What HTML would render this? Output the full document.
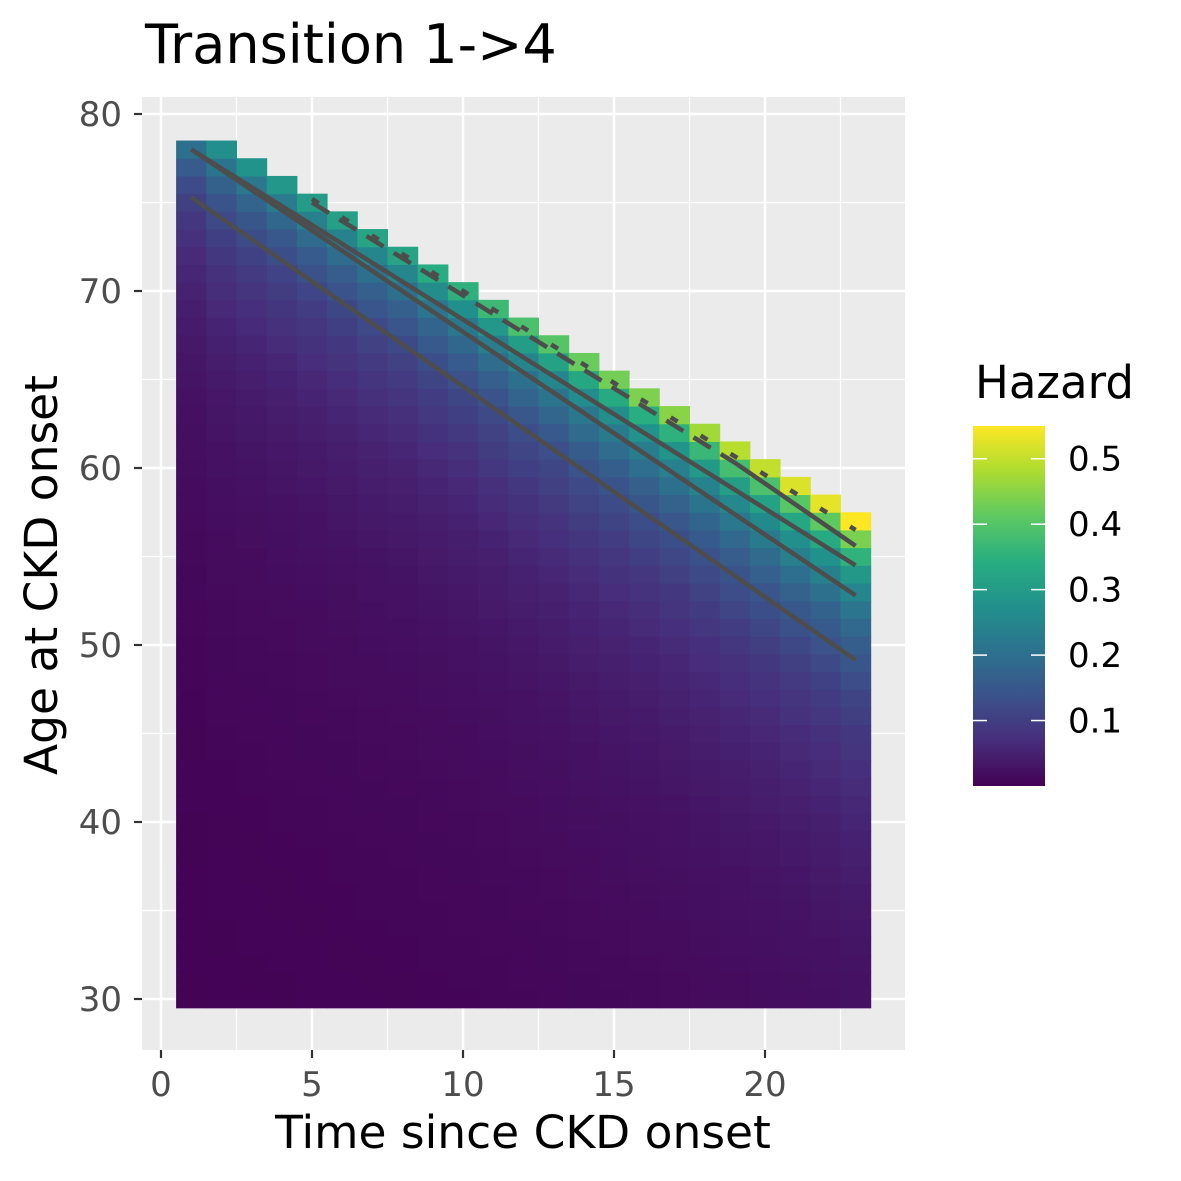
<!DOCTYPE html>
<html><head><meta charset="utf-8"><style>
body{margin:0;background:#fff}
svg{display:block;font-family:"DejaVu Sans","Liberation Sans",sans-serif}
</style></head><body>
<svg id="c" width="1181" height="1181" viewBox="0 0 1181 1181">
<defs>
<linearGradient id="vir" x1="0" y1="1" x2="0" y2="0">
<stop offset="0" stop-color="#440154"/><stop offset="0.125" stop-color="#472d7b"/><stop offset="0.25" stop-color="#3b528b"/><stop offset="0.375" stop-color="#2c728e"/><stop offset="0.5" stop-color="#21918c"/><stop offset="0.625" stop-color="#28ae80"/><stop offset="0.75" stop-color="#5ec962"/><stop offset="0.875" stop-color="#addc30"/><stop offset="1" stop-color="#fde725"/>
</linearGradient>
</defs>
<text x="145" y="63" font-size="54" fill="#000">Transition 1-&gt;4</text>
<rect x="142" y="97" width="763" height="953" fill="#ebebeb"/>
<g id="grid"></g>
<g id="tiles"></g>
<g id="lines"></g>
<g id="axes"></g>
<text x="523" y="1148" font-size="45.5" text-anchor="middle" fill="#000">Time since CKD onset</text>
<text transform="translate(57,575) rotate(-90)" font-size="45.5" text-anchor="middle" fill="#000">Age at CKD onset</text>
<g>
<text x="975" y="398" font-size="45" fill="#000">Hazard</text>
<rect x="973" y="426" width="72" height="360" fill="url(#vir)"/>
<g id="leg"></g>
</g>
</svg>
<script>
const times=[1,2,3,4,5,6,7,8,9,10,11,12,13,14,15,16,17,18,19,20,21,22,23];
const topAge=[78,78,77,76,75,74,73,72,71,70,69,68,67,66,65,64,63,62,61,60,59,58,57];
const topHaz=[0.2,0.27,0.28,0.29,0.3,0.31,0.32,0.32,0.34,0.35,0.37,0.39,0.4,0.42,0.43,0.44,0.45,0.47,0.49,0.5,0.52,0.53,0.56];
const decay=[1,0.78,0.63,0.52,0.45,0.38,0.33,0.29,0.26,0.23,0.2,0.18,0.16,0.145,0.13,0.12,0.11,0.1,0.09,0.083,0.076,0.07,0.064,0.059,0.055,0.051,0.048,0.045,0.042,0.039,0.036,0.034,0.032,0.03,0.028,0.026,0.025,0.023,0.022,0.021,0.02,0.019,0.018,0.017,0.016,0.015,0.014,0.013,0.012];
const minAge=30;
const xTicks=[0,5,10,15,20];
const yTicks=[30,40,50,60,70,80];
const legTicks=[0.1,0.2,0.3,0.4,0.5];
const solidLines=[[1,78.0,23,54.5],[1,78.0,23,52.8],[1,75.3,23,49.15],[19,60.3,23,55.6]];
const longDashLine=[5,75.0,19,60.3];
const dotLine=[5,75.2,23,56.5];
const NS='http://www.w3.org/2000/svg';
const X=v=>161+v*30.2, Y=v=>999-(v-30)*17.7;
const hMax=0.55;
const LY=v=>786-v/hMax*360;
const vstops=['#440154','#472d7b','#3b528b','#2c728e','#21918c','#28ae80','#5ec962','#addc30','#fde725'];
function hex(h){return [1,3,5].map(i=>parseInt(h.substr(i,2),16));}
function col(v){let f=Math.max(0,Math.min(1,v/hMax))*8;let i=Math.min(7,Math.floor(f));let t=f-i;let a=hex(vstops[i]),b=hex(vstops[i+1]);return 'rgb('+a.map((c,k)=>Math.round(c+(b[k]-c)*t)).join(',')+')';}
function mk(tag,at,par){const e=document.createElementNS(NS,tag);for(const k in at)e.setAttribute(k,at[k]);par.appendChild(e);return e;}
const grid=document.getElementById('grid');
for(let v=2.5;v<25;v+=5){const e=mk('line',{x1:X(v),x2:X(v),y1:97,y2:1050,stroke:'#fff','stroke-width':1.2},grid);

}
for(let v=35;v<85;v+=10){const e=mk('line',{x1:142,x2:905,y1:Y(v),y2:Y(v),stroke:'#fff','stroke-width':1.2},grid);

}
xTicks.forEach(v=>{const e=mk('line',{x1:X(v),x2:X(v),y1:97,y2:1050,stroke:'#fff','stroke-width':2.5},grid);

});
yTicks.forEach(v=>{const e=mk('line',{x1:142,x2:905,y1:Y(v),y2:Y(v),stroke:'#fff','stroke-width':2.5},grid);

});
const tiles=document.getElementById('tiles');
times.forEach((t,i)=>{for(let a=minAge;a<=topAge[i];a++){const k=topAge[i]-a;const h=topHaz[i]*(decay[k]!==undefined?decay[k]:decay[decay.length-1]);
const r=mk('rect',{x:X(t-0.5),y:Y(a+0.5),width:30.2+0.5,height:17.7+0.5,fill:col(h)},tiles);

}});
const lines=document.getElementById('lines');
solidLines.forEach(l=>{const e=mk('line',{x1:X(l[0]),y1:Y(l[1]),x2:X(l[2]),y2:Y(l[3]),stroke:'#4d4d4d','stroke-width':4.5},lines);

});
{const l=longDashLine;const e=mk('line',{x1:X(l[0]),y1:Y(l[1]),x2:X(l[2]),y2:Y(l[3]),stroke:'#4d4d4d','stroke-width':4.5,'stroke-dasharray':'20 12'},lines);

}
{const l=dotLine;const e=mk('line',{x1:X(l[0]),y1:Y(l[1]),x2:X(l[2]),y2:Y(l[3]),stroke:'#4d4d4d','stroke-width':4.5,'stroke-dasharray':'8 27'},lines);

}
const axes=document.getElementById('axes');
xTicks.forEach(v=>{const t=mk('line',{x1:X(v),x2:X(v),y1:1050,y2:1058,stroke:'#333','stroke-width':2.2},axes);


const s=mk('text',{x:X(v),y:1096,'font-size':34,'text-anchor':'middle',fill:'#4d4d4d'},axes);s.textContent=v;

});
yTicks.forEach(v=>{const t=mk('line',{x1:134,x2:142,y1:Y(v),y2:Y(v),stroke:'#333','stroke-width':2.2},axes);


const s=mk('text',{x:122,y:Y(v)+12,'font-size':34,'text-anchor':'end',fill:'#4d4d4d'},axes);s.textContent=v;

});
const leg=document.getElementById('leg');
legTicks.forEach(v=>{[[973,987],[1031,1045]].forEach(p=>{const t=mk('line',{x1:p[0],x2:p[1],y1:LY(v),y2:LY(v),stroke:'#fff','stroke-width':1.5},leg);

});
const s=mk('text',{x:1068,y:LY(v)+12,'font-size':34,fill:'#000'},leg);s.textContent=v.toFixed(1);

});
</script>
</body></html>
